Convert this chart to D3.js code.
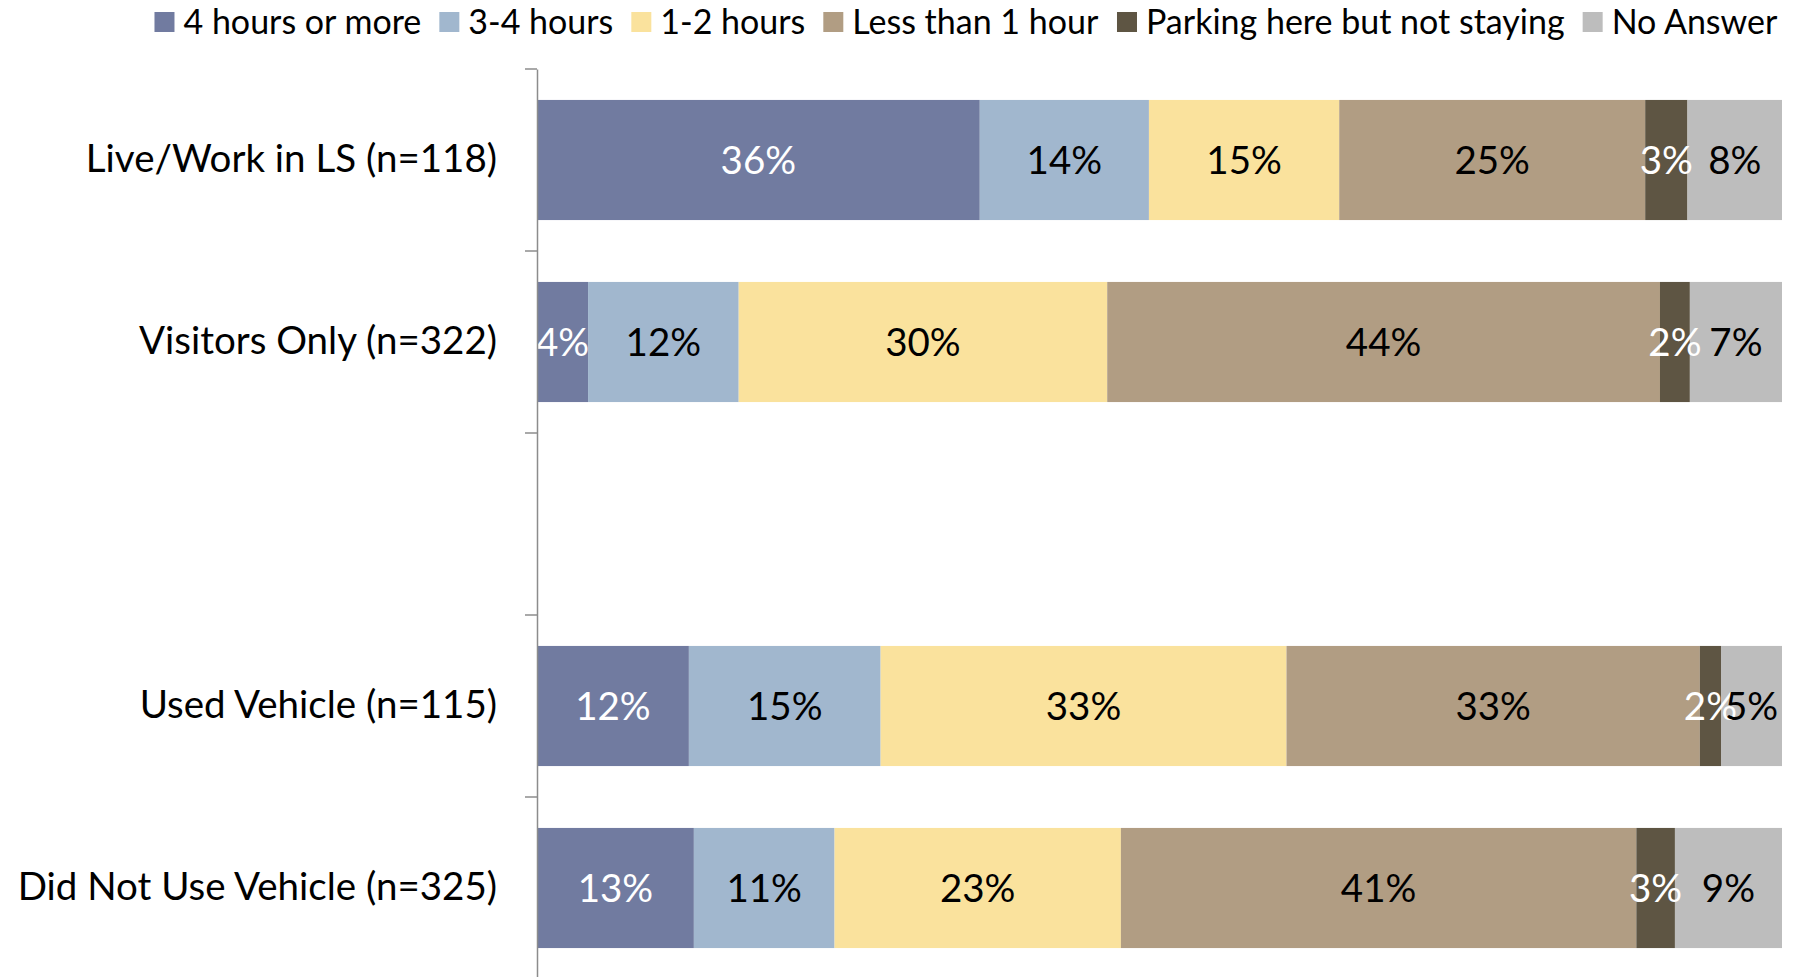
<!DOCTYPE html>
<html>
<head>
<meta charset="utf-8">
<script src="https://cdn.jsdelivr.net/npm/d3@7"></script>
<style>
  html, body { margin: 0; padding: 0; background: #fff; }
  svg { display: block; }
  text { font-family: Lato, "Open Sans", sans-serif; }
</style>
</head>
<body>
<svg id="chart" width="1799" height="977"></svg>
<script>
// ---- data ----
const categories = ["Live/Work in LS (n=118)", "Visitors Only (n=322)", " ", "Used Vehicle (n=115)", "Did Not Use Vehicle (n=325)"];
const seriesNames = ["4 hours or more", "3-4 hours", "1-2 hours", "Less than 1 hour", "Parking here but not staying", "No Answer"];
const fourPlus   = [35.6, 4.1, null, 12.2, 12.6];
const threeFour  = [13.6, 12.1, null, 15.4, 11.3];
const oneTwo     = [15.3, 29.6, null, 32.6, 23.0];
const lessOne    = [24.6, 44.4, null, 33.2, 41.4];
const parking    = [3.4, 2.4, null, 1.7, 3.1];
const noAnswer   = [7.6, 7.4, null, 4.9, 8.6];
const colors     = ["#717ba0", "#a1b7ce", "#fae29d", "#b19d83", "#5e5543", "#bdbdbd"];
const labelColors = ["#ffffff", "#000000", "#000000", "#000000", "#ffffff", "#000000"];

const seriesValues = [fourPlus, threeFour, oneTwo, lessOne, parking, noAnswer];
const rows = categories.map((c, i) => {
  const r = { cat: c, empty: fourPlus[i] === null };
  seriesNames.forEach((s, j) => { r[s] = seriesValues[j][i] === null ? 0 : seriesValues[j][i]; });
  return r;
});

const svg = d3.select("#chart");
const margin = { left: 537, right: 17, top: 69, bottom: -2 };
const W = 1799, H = 977;

const x = d3.scaleLinear().domain([0, 1]).range([margin.left, W - margin.right]);
const y = d3.scaleBand().domain(categories).range([margin.top, H - margin.bottom]).paddingInner(0.34).paddingOuter(0.17);

const stack = d3.stack().keys(seriesNames).offset(d3.stackOffsetExpand);
const stacked = stack(rows.filter(r => !r.empty));

const g = svg.append("g");
stacked.forEach((layer, j) => {
  const lg = g.append("g");
  lg.selectAll("rect").data(layer).join("rect")
    .attr("x", d => x(d[0]))
    .attr("y", d => y(d.data.cat))
    .attr("width", d => x(d[1]) - x(d[0]))
    .attr("height", y.bandwidth())
    .attr("fill", colors[j]);
});
stacked.forEach((layer, j) => {
  g.append("g").selectAll("text").data(layer).join("text")
    .attr("x", d => (x(d[0]) + x(d[1])) / 2)
    .attr("y", d => y(d.data.cat) + y.bandwidth() / 2)
    .attr("dy", "0.36em")
    .attr("text-anchor", "middle")
    .attr("font-size", 38.5)
    .attr("fill", labelColors[j])
    .text(d => Math.round(d.data[seriesNames[j]]) + "%");
});

// y axis
const yBound = d3.scaleBand().domain(categories).range([margin.top, H - margin.bottom]).padding(0);
const axis = svg.append("g").attr("transform", `translate(${margin.left},0)`)
  .call(d3.axisLeft(yBound).tickSize(0).tickPadding(40));
axis.select(".domain").attr("stroke", "#8c8c8c").attr("stroke-width", 1.5);
axis.selectAll("text").attr("font-size", 38.5).attr("fill", "#000").attr("font-family", "Lato, sans-serif");
// tick marks at category boundaries
const boundaries = categories.map(c => yBound(c));
axis.selectAll(".bnd").data(boundaries).join("line")
  .attr("class", "bnd")
  .attr("x1", -12).attr("x2", 0)
  .attr("y1", d => d).attr("y2", d => d)
  .attr("stroke", "#8c8c8c").attr("stroke-width", 1.5);

// legend
const legend = svg.append("g");
const items = legend.selectAll("g").data(seriesNames).join("g");
items.append("rect").attr("width", 20).attr("height", 20).attr("y", -10)
  .attr("fill", (d, i) => colors[i]);
items.append("text").attr("x", 29).attr("dy", "0.36em").attr("font-size", 34).attr("fill", "#000").text(d => d);
let cx = 0;
items.each(function () {
  const w = this.getBBox().width;
  d3.select(this).attr("transform", `translate(${cx},0)`);
  cx += w + 18;
});
const totalW = cx - 18;
legend.attr("transform", `translate(${1778 - totalW},22)`);
</script>
</body>
</html>
